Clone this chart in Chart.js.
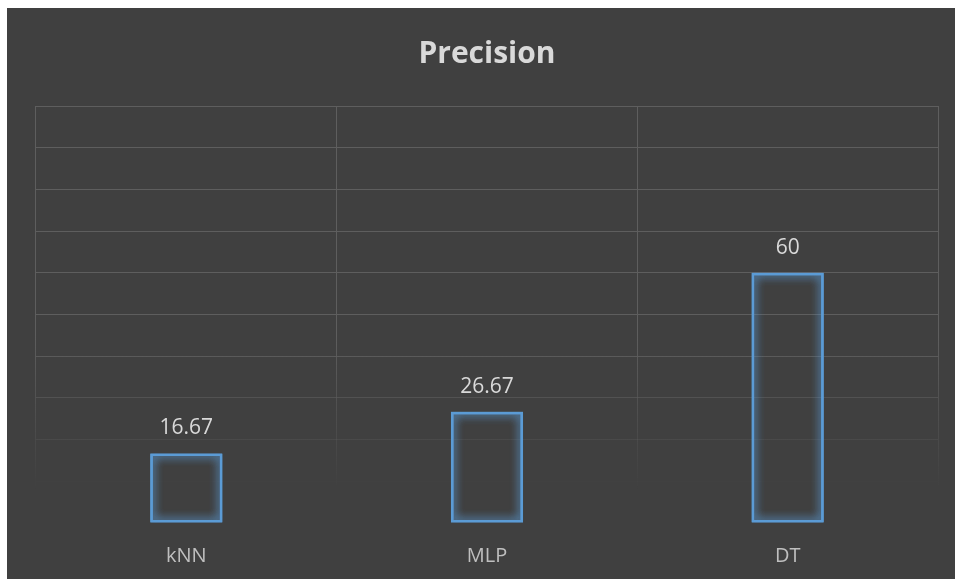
<!DOCTYPE html>
<html>
<head>
<meta charset="utf-8">
<script src="https://cdn.jsdelivr.net/npm/chart.js@4"></script>
<style>
  html, body { margin: 0; padding: 0; background: #ffffff; }
  #box { position: absolute; left: 7px; top: 8px; width: 948px; height: 571px; background: #404040; }
</style>
</head>
<body>
<div id="box"><canvas id="myChart"></canvas></div>
<script>
// values
const models = ['kNN', 'MLP', 'DT'];
const precision = [16.67, 26.67, 60];
const yTicks = [0, 10, 20, 30, 40, 50, 60, 70, 80, 90, 100];

const barBlue = '#5b9bd5';
const textGrey = '#d9d9d9';

// grid fades out toward the bottom, like the original
function gridFade(context) {
    const chart = context.chart;
    const area = chart.chartArea;
    if (!area) return 'rgba(90,90,90,1)';
    const g = chart.ctx.createLinearGradient(0, area.top, 0, area.bottom);
    g.addColorStop(0, 'rgba(94,94,94,1)');
    g.addColorStop(0.55, 'rgba(94,94,94,1)');
    g.addColorStop(0.92, 'rgba(94,94,94,0)');
    g.addColorStop(1, 'rgba(94,94,94,0)');
    return g;
}

// glow round the bar outlines (bars drawn a second time to thicken the halo)
const glow = {
    id: 'glow',
    beforeDatasetsDraw(chart) {
        const c = chart.ctx;
        c.save();
        c.shadowColor = 'rgba(91,155,213,1)';
        c.shadowBlur = 10;
    },
    afterDatasetsDraw(chart) {
        chart.getDatasetMeta(0).controller.draw();
        chart.ctx.restore();
    }
};

// value labels above each bar
const valueLabels = {
    id: 'valueLabels',
    afterDatasetsDraw(chart) {
        const c = chart.ctx;
        const meta = chart.getDatasetMeta(0);
        c.save();
        c.fillStyle = textGrey;
        c.font = '21px "Open Sans"';
        c.textAlign = 'center';
        c.textBaseline = 'middle';
        meta.data.forEach((bar, i) => {
            c.fillText(String(precision[i]), bar.x, bar.y - 25);
        });
        c.restore();
    }
};

const ctx = document.getElementById('myChart').getContext('2d');

const myChart = new Chart(ctx, {
    type: 'bar',
    data: {
        labels: models,
        datasets: [{
            label: 'Precision',
            data: precision,
            backgroundColor: 'rgba(0,0,0,0)',
            borderColor: barBlue,
            borderWidth: 2.5,
            borderSkipped: false,
            categoryPercentage: 1,
            barPercentage: 0.24
        }]
    },
    options: {
        responsive: true,
        maintainAspectRatio: false,
        animation: false,
        layout: { padding: { left: 29, right: 17, top: 0, bottom: -10 } },
        plugins: {
            legend: { display: false },
            tooltip: { enabled: false },
            title: {
                display: true,
                text: 'Precision',
                color: textGrey,
                font: { family: 'Open Sans', size: 30, weight: 'bold' },
                padding: { top: 28, bottom: 34 }
            }
        },
        scales: {
            x: {
                grid: { color: gridFade, lineWidth: 1, drawTicks: false, offset: true },
                border: { display: false },
                ticks: {
                    color: '#bfbfbf',
                    font: { family: 'Open Sans', size: 20 },
                    padding: 21
                }
            },
            y: {
                min: 0,
                max: 100,
                afterBuildTicks(axis) {
                    axis.ticks = yTicks.map(v => ({ value: v }));
                },
                grid: { color: gridFade, lineWidth: 1, drawTicks: false },
                border: { display: false },
                ticks: { display: false }
            }
        }
    },
    plugins: [glow, valueLabels]
});
</script>
</body>
</html>
